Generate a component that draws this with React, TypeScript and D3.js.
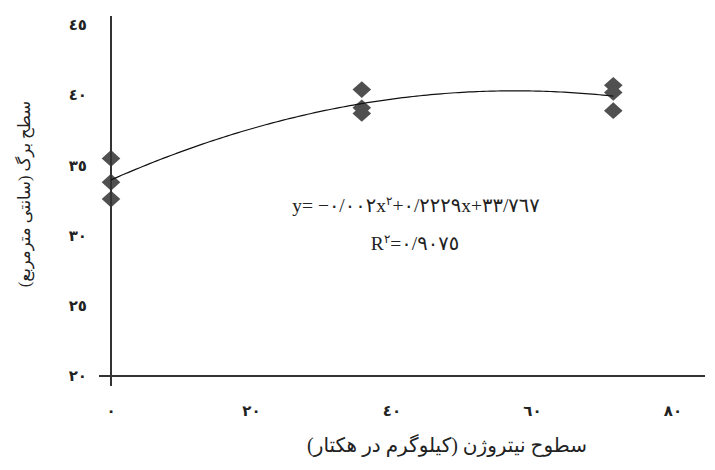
import * as d3 from 'd3';
import { useEffect } from 'react';

// nitrogen level (kg/ha) and leaf area (cm2), three replicates per level
const nitrogen = [0, 0, 0, 35.7, 35.7, 35.7, 71.5, 71.5, 71.5];
const leafArea = [35.5, 33.8, 32.6, 40.4, 39.1, 38.7, 40.7, 40.2, 38.9];

const xTicks = [0, 20, 40, 60, 80];
const yTicks = [20, 25, 30, 35, 40, 45];

const equationParts = ['y= −٠/٠٠٢x', '٢', '+٠/٢٢٢٩x+٣٣/٧٦٧'];
const rSquaredParts = ['R', '٢', '=٠/٩٠٧٥'];

const xTitle = 'سطوح نیتروژن (کیلوگرم در هکتار)';
const yTitle = 'سطح برگ (سانتی مترمربع)';

const W = 715;
const H = 470;

const toArabicDigits = (n: number) =>
  String(n).replace(/\d/g, d => '٠١٢٣٤٥٦٧٨٩'[+d]);

// least squares quadratic fit -> [a, b, c] for a*x^2 + b*x + c
function fitQuadratic(xs: number[], ys: number[]) {
  const s = (f: (x: number, y: number) => number) =>
    d3.sum(xs, (x, i) => f(x, ys[i]));
  const m = [
    [s(x => x ** 4), s(x => x ** 3), s(x => x ** 2), s((x, y) => x * x * y)],
    [s(x => x ** 3), s(x => x ** 2), s(x => x), s((x, y) => x * y)],
    [s(x => x ** 2), s(x => x), xs.length, s((_, y) => y)],
  ];
  for (let i = 0; i < 3; i++) {
    for (let k = i + 1; k < 3; k++) {
      const f = m[k][i] / m[i][i];
      for (let j = i; j < 4; j++) m[k][j] -= f * m[i][j];
    }
  }
  const r = [0, 0, 0];
  for (let i = 2; i >= 0; i--) {
    let v = m[i][3];
    for (let j = i + 1; j < 3; j++) v -= m[i][j] * r[j];
    r[i] = v / m[i][i];
  }
  return r;
}

export default function App() {
  useEffect(() => {
    document.body.style.margin = '0';
  }, []);

  const x = d3.scaleLinear().domain([0, 80]).range([111, 673]);
  const y = d3.scaleLinear().domain([20, 45]).range([376, 25]);

  const [a, b, c] = fitQuadratic(nitrogen, leafArea);
  const xs = d3.range(0, d3.max(nitrogen)! + 0.01, 0.5);
  const trend = d3
    .line<number>()
    .x(d => x(d))
    .y(d => y(a * d * d + b * d + c))(xs);

  const diamond = d3.symbol().type(d3.symbolDiamond2).size(200)()!;

  const serif = '"Liberation Serif", "DejaVu Sans", serif';

  return (
    <svg width={W} height={H} style={{ display: 'block', background: '#fff' }}>
      {nitrogen.map((n, i) => (
        <path
          key={i}
          d={diamond}
          transform={`translate(${x(n)},${y(leafArea[i])}) scale(1.05,0.95)`}
          fill="#505050"
        />
      ))}

      <line x1={x(0)} x2={x(0)} y1={16} y2={386} stroke="#333" strokeWidth={2} />
      <line x1={99} x2={705} y1={y(20)} y2={y(20)} stroke="#333" strokeWidth={2} />

      <path d={trend ?? ''} fill="none" stroke="#111" strokeWidth={1.2} />

      {yTicks.map(t => (
        <text
          key={t}
          x={87}
          y={y(t)}
          dy="0.35em"
          textAnchor="end"
          fontFamily={serif}
          fontWeight="bold"
          fontSize={15}
          fill="#222"
        >
          {toArabicDigits(t)}
        </text>
      ))}

      {xTicks.map(t => (
        <text
          key={t}
          x={x(t)}
          y={411}
          dy="0.35em"
          textAnchor="middle"
          fontFamily={serif}
          fontWeight="bold"
          fontSize={15}
          fill="#222"
        >
          {toArabicDigits(t)}
        </text>
      ))}

      <text
        x={416}
        y={212}
        textAnchor="middle"
        fontFamily={serif}
        fontSize={19.5}
        fill="#222"
        direction="ltr"
        unicodeBidi="bidi-override"
      >
        <tspan>{equationParts[0]}</tspan>
        <tspan fontSize={12} dy={-7}>{equationParts[1]}</tspan>
        <tspan dy={7}>{equationParts[2]}</tspan>
      </text>
      <text
        x={415}
        y={250}
        textAnchor="middle"
        fontFamily={serif}
        fontSize={19.5}
        fill="#222"
        direction="ltr"
        unicodeBidi="bidi-override"
      >
        <tspan>{rSquaredParts[0]}</tspan>
        <tspan fontSize={12} dy={-7}>{rSquaredParts[1]}</tspan>
        <tspan dy={7}>{rSquaredParts[2]}</tspan>
      </text>

      <text
        x={447}
        y={452}
        textAnchor="middle"
        direction="rtl"
        fontFamily={serif}
        fontSize={20}
        fill="#222"
      >
        {xTitle}
      </text>
      <text
        transform="translate(30,194) rotate(-90)"
        textAnchor="middle"
        direction="rtl"
        fontFamily={serif}
        fontSize={16.5}
        fill="#222"
      >
        {yTitle}
      </text>
    </svg>
  );
}
